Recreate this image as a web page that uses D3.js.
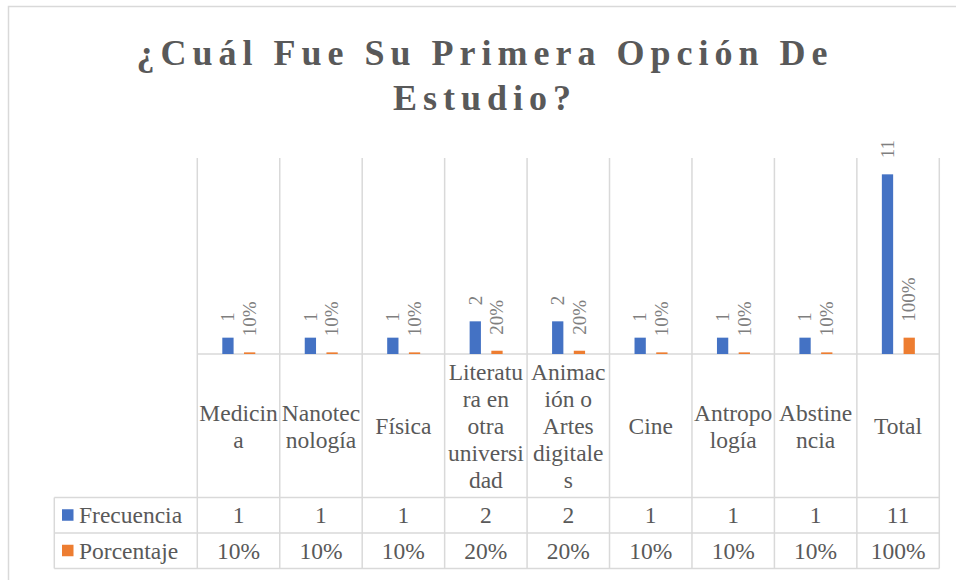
<!DOCTYPE html>
<html><head><meta charset="utf-8">
<script src="https://cdn.jsdelivr.net/npm/d3@7"></script>
<style>
html,body{margin:0;padding:0;background:#fff;}
svg{display:block;font-family:"Liberation Serif","Times New Roman",serif;}
</style></head>
<body><svg id="c" width="956" height="580"></svg>
<script>
const titleLines = ["¿Cuál Fue Su Primera Opción De", "Estudio?"];
const categories = ["Medicina","Nanotecnología","Física","Literatura en otra universidad","Animación o Artes digitales","Cine","Antropología","Abstinencia","Total"];
const seriesNames = ["Frecuencia","Porcentaje"];
const frecuencia = [1,1,1,2,2,1,1,1,11];
const porcentaje = [0.1,0.1,0.1,0.2,0.2,0.1,0.1,0.1,1];
const colors = ["#4472c4","#ed7d31"];
const yDomain = [0,12];

const svg = d3.select("#c");
const grid = "#d9d9d9", textCol = "#595959", labelCol = "#7f7f7f";
const plotL = 197.3, plotR = 939.3, plotT = 158, base = 354;
const tableL = 54.3, hdrB = 497.5, row1B = 533, row2B = 568.5;
const fsTable = 23.5, fsLabel = 19;

svg.append("rect").attr("x",8.5).attr("y",6.5).attr("width",1000).attr("height",700)
  .attr("fill","#fff").attr("stroke",grid).attr("stroke-width",1.5);

// title
const tt = svg.append("text").attr("fill",textCol).attr("font-weight","bold")
  .attr("font-size",36).attr("letter-spacing",6).attr("text-anchor","middle");
titleLines.forEach((l,i)=>tt.append("tspan").attr("x",485).attr("y",65+i*45).text(l));

const x0 = d3.scaleBand().domain(categories).range([plotL,plotR]).padding(0);
const x1 = d3.scaleBand().domain(seriesNames).range([25,58]).paddingInner(0.48);
const y = d3.scaleLinear().domain(yDomain).range([base,plotT]);
const data = categories.map((c,i)=>({cat:c, vals:[frecuencia[i],porcentaje[i]]}));
const fmt = [d3.format("d"), d3.format(".0%")];

const gl = svg.append("g").attr("stroke",grid).attr("stroke-width",1.5).attr("fill","none");
// vertical gridlines / table column lines
const bounds = categories.map(c=>x0(c)).concat([plotR]);
bounds.forEach(b=>gl.append("line").attr("x1",b).attr("x2",b).attr("y1",plotT).attr("y2",row2B));
gl.append("line").attr("x1",plotL).attr("x2",plotR).attr("y1",base).attr("y2",base);
[hdrB,row1B,row2B].forEach(yy=>gl.append("line").attr("x1",tableL).attr("x2",plotR).attr("y1",yy).attr("y2",yy));
gl.append("line").attr("x1",tableL).attr("x2",tableL).attr("y1",hdrB).attr("y2",row2B);

// bars
const g = svg.append("g");
const cg = g.selectAll("g.cat").data(data).join("g").attr("transform",d=>`translate(${x0(d.cat)},0)`);
cg.selectAll("rect").data(d=>d.vals.map((v,k)=>({s:seriesNames[k],v,k}))).join("rect")
  .attr("x",d=>x1(d.s)).attr("width",x1.bandwidth())
  .attr("y",d=>y(d.v)).attr("height",d=>y(0)-y(d.v)).attr("fill",d=>colors[d.k]);
cg.selectAll("text").data(d=>d.vals.map((v,k)=>({s:seriesNames[k],v,k}))).join("text")
  .attr("transform",d=>`translate(${x1(d.s)+x1.bandwidth()/2},${y(d.v)-16}) rotate(-90)`)
  .attr("dy","0.33em").attr("font-size",fsLabel).attr("fill",labelCol)
  .text(d=>fmt[d.k](d.v));

// category header text with Excel-like wrapping
const maxW = 79;
const meas = svg.append("text").attr("font-size",fsTable).attr("visibility","hidden");
function w(s){meas.text(s);return meas.node().getComputedTextLength();}
function wrap(str){
  const lines=[]; let cur="";
  str.split(" ").forEach(word=>{
    let cand = cur ? cur+" "+word : word;
    if (w(cand) <= maxW) { cur = cand; return; }
    if (cur) { lines.push(cur); cur=""; }
    let rest = word;
    while (w(rest) > maxW) {
      let n = rest.length;
      while (n>1 && w(rest.slice(0,n))>maxW) n--;
      lines.push(rest.slice(0,n)); rest = rest.slice(n);
    }
    cur = rest;
  });
  if (cur) lines.push(cur);
  return lines;
}
const hdrC = (base+hdrB)/2, lh = 27;
categories.forEach(c=>{
  const lines = wrap(c);
  const t = svg.append("text").attr("font-size",fsTable).attr("fill",textCol).attr("text-anchor","middle");
  lines.forEach((l,i)=>t.append("tspan").attr("x",x0(c)+x0.bandwidth()/2)
    .attr("y",hdrC+0.37*fsTable+(i-(lines.length-1)/2)*lh).text(l));
});
meas.remove();

// data rows
const rows = [[hdrB,row1B],[row1B,row2B]];
seriesNames.forEach((s,k)=>{
  const cy = (rows[k][0]+rows[k][1])/2;
  svg.append("rect").attr("x",62).attr("y",cy-6).attr("width",11.5).attr("height",11.5).attr("fill",colors[k]);
  svg.append("text").attr("x",79).attr("y",cy+0.34*fsTable).attr("font-size",fsTable).attr("fill",textCol).text(s);
  data.forEach(d=>svg.append("text").attr("x",x0(d.cat)+x0.bandwidth()/2).attr("y",cy+0.34*fsTable)
    .attr("text-anchor","middle").attr("font-size",fsTable).attr("fill",textCol).text(fmt[k](d.vals[k])));
});
</script></body></html>
